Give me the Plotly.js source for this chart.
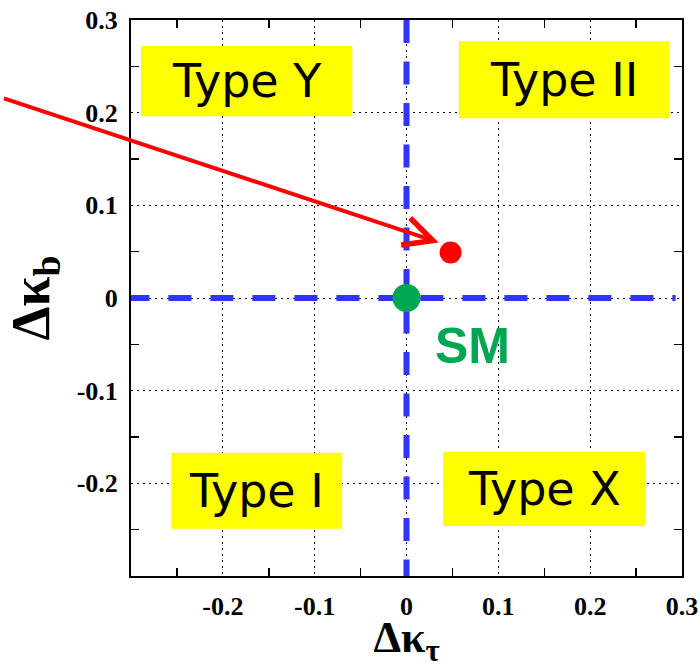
<!DOCTYPE html>
<html><head><meta charset="utf-8">
<script src="https://cdn.plot.ly/plotly-3.0.1.min.js"></script>
<style>html,body{margin:0;padding:0;background:#fff;} #chart{width:700px;height:668px;}</style>
</head><body><div id="chart"></div>
<script>
// ---- data ----
const xTickVals = [-0.2, -0.1, 0, 0.1, 0.2, 0.3];
const xTickText = ['-0.2', '-0.1', '0', '0.1', '0.2', '0.3'];
const yTickVals = [-0.2, -0.1, 0, 0.1, 0.2, 0.3];
const yTickText = ['-0.2', '-0.1', '0', '0.1', '0.2', '0.3'];

const regionNames = ['Type Y', 'Type II', 'Type I', 'Type X'];
const regionX0 = [-0.289, 0.057, -0.256, 0.040];
const regionX1 = [-0.059, 0.286, -0.070, 0.260];
const regionY0 = [0.196, 0.194, -0.249, -0.246];
const regionY1 = [0.272, 0.277, -0.167, -0.166];

const smX = [0];
const smY = [0];
const smLabel = 'SM';
const smLabelX = [0.072];
const smLabelY = [-0.052];

const measX = [0.048];
const measY = [0.049];

const arrowTailX = [-0.44];
const arrowTailY = [0.216];
const arrowTipX = [0.035];
const arrowTipY = [0.060];

const refLineX = [0];          // vertical reference line at Δκτ = 0
const refLineY = [0];          // horizontal reference line at Δκb = 0
const xRange = [-0.3, 0.3];
const yRange = [-0.3, 0.3];

// ---- styles ----
const BLUE = 'rgb(51,51,255)';
const GREEN = '#00a651';
const RED = '#ff0000';
const YELLOW = '#ffff00';
const serif = 'Liberation Serif';

const traces = [
  {x: smX, y: smY, type: 'scatter', mode: 'markers',
   marker: {size: 28, color: GREEN}, hoverinfo: 'skip', showlegend: false, cliponaxis: false},
  {x: measX, y: measY, type: 'scatter', mode: 'markers',
   marker: {size: 22, color: RED}, hoverinfo: 'skip', showlegend: false}
];

const shapes = [];
regionNames.forEach((n, i) => {
  shapes.push({type: 'rect', xref: 'x', yref: 'y', layer: 'between',
    x0: regionX0[i], x1: regionX1[i], y0: regionY0[i], y1: regionY1[i],
    fillcolor: YELLOW, line: {width: 0}});
});
shapes.push({type: 'line', xref: 'x', yref: 'y', layer: 'between',
  x0: refLineX[0], x1: refLineX[0], y0: yRange[1], y1: yRange[0],
  line: {color: BLUE, width: 6, dash: '23px,18.5px'}});
shapes.push({type: 'line', xref: 'x', yref: 'y', layer: 'between',
  x0: -0.305, x1: 0.293, y0: refLineY[0], y1: refLineY[0],
  line: {color: BLUE, width: 6, dash: '23px,19px'}});

const annotations = regionNames.map((n, i) => ({
  x: (regionX0[i] + regionX1[i]) / 2, y: (regionY0[i] + regionY1[i]) / 2,
  xref: 'x', yref: 'y', text: n, showarrow: false,
  xanchor: 'center', yanchor: 'middle',
  font: {family: 'DejaVu Sans', size: 46, color: 'black'}
}));
annotations.push({x: smLabelX[0], y: smLabelY[0], xref: 'x', yref: 'y',
  text: '<b>' + smLabel + '</b>', showarrow: false, xanchor: 'center', yanchor: 'middle',
  font: {family: 'Liberation Sans', size: 50, color: GREEN}});
annotations.push({x: arrowTipX[0], y: arrowTipY[0], xref: 'x', yref: 'y',
  ax: arrowTailX[0], ay: arrowTailY[0], axref: 'x', ayref: 'y',
  text: '', showarrow: true, arrowhead: 5, arrowsize: 1.4, arrowwidth: 4,
  arrowcolor: RED, standoff: 0, startstandoff: 0});

function axisCommon(vals, text) {
  return {
    tickmode: 'array', tickvals: vals, ticktext: text.map(t => '<b>' + t + '</b>'), ticks: '',
    showgrid: true, gridcolor: 'black', gridwidth: 1, griddash: '2px,4px',
    zeroline: false, showline: true, linecolor: 'black', linewidth: 2, mirror: 'allticks',
    minor: {ticks: 'inside', ticklen: 8, tickwidth: 1.5, tickcolor: 'black',
            tickmode: 'linear', tick0: 0.05, dtick: 0.1, showgrid: false},
    tickfont: {family: serif, size: 26, color: 'black'},
    ticklabeloverflow: 'allow',
    fixedrange: true
  };
}

const layout = {
  width: 700, height: 668,
  margin: {l: 131, r: 18, t: 20, b: 92},
  paper_bgcolor: 'white', plot_bgcolor: 'white',
  font: {family: serif, color: 'black'},
  showlegend: false,
  xaxis: Object.assign(axisCommon(xTickVals, xTickText), {
    range: xRange, ticklabelstandoff: 6,
    title: {text: '<b>Δκ<sub>τ</sub></b>', font: {family: serif, size: 44, color: 'black'}, standoff: 12}
  }),
  yaxis: Object.assign(axisCommon(yTickVals, yTickText), {
    range: yRange, ticklabelstandoff: 6,
    title: {text: '<b>Δκ<sub>b</sub></b>', font: {family: serif, size: 54, color: 'black'}, standoff: 10}
  }),
  shapes: shapes,
  annotations: annotations
};

Plotly.newPlot('chart', traces, layout, {staticPlot: true, displayModeBar: false});
</script>
</body></html>
